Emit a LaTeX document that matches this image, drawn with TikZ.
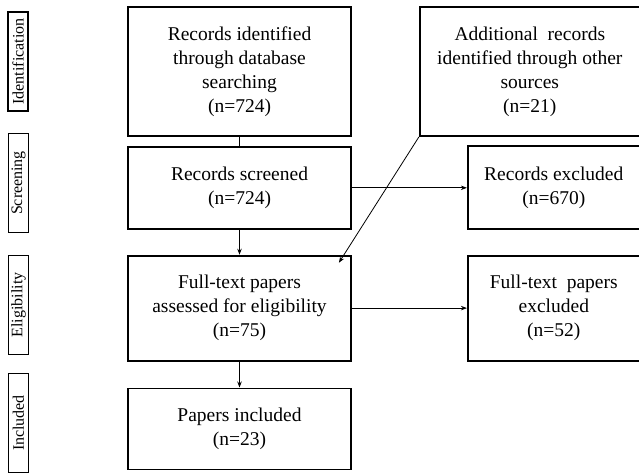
\documentclass[tikz,border=0pt]{standalone}
\usepackage{fontspec}
\setmainfont{Liberation Serif}
\usetikzlibrary{positioning, arrows.meta, calc}

\begin{document}
\begin{tikzpicture}[
			node distance=25pt and 67pt, % Vertical and Horizontal spacing
			>={Stealth[length=6pt,width=4.5pt]},
			% Style for the flow boxes
			flowbox/.style={
				rectangle,
				draw=black,
				line width=1.8pt,
				fill=white,
				inner sep=2pt,
				align=center,
				font=\fontsize{19.5}{24}\selectfont
			},
			% Style for the stage labels at the left
			stage/.style={
				rectangle,
				draw=black,
				line width=1.8pt,
				rotate=90,
				minimum width=99pt,
				minimum height=20pt,
				inner sep=0pt,
				font=\fontsize{16}{16}\selectfont
			},
			% Style for the connectors
			flow/.style={
				->,
				line width=0.8pt
			}
			]
			
			\useasboundingbox (0,0) rectangle (639pt,-472pt);
			
			% --- MAIN COLUMN ---
			\node[flowbox, minimum width=223pt, minimum height=129pt] (Rec) at (239.5pt,-71.5pt) {Records identified\\through database\\searching\\(n=724)};
			\node[flowbox, minimum width=223pt, minimum height=82pt, below=9pt of Rec] (Scr) {Records screened\\(n=724)};
			\node[flowbox, minimum width=223pt, minimum height=105pt, below=of Scr] (Full) {Full-text papers\\assessed for eligibility\\(n=75)};
			\node[flowbox, minimum width=223pt, minimum height=81pt, below=26pt of Full] (Inc) {Papers included\\(n=23)};
			
			% --- RIGHT COLUMN ---
			\node[flowbox, minimum width=220pt, minimum height=129pt, right=of Rec] (Add) {Additional\ \ records\\identified through other\\sources\\(n=21)};
			\node[flowbox, minimum width=172pt, minimum height=83pt, right=115pt of Scr] (RecEx) {Records excluded\\(n=670)};
			\node[flowbox, minimum width=172pt, minimum height=105pt, right=115pt of Full] (FullEx) {Full-text\ \ papers\\excluded\\(n=52)};
			
			% --- STAGE LABELS ---
			\node[stage] (Sid) at (18pt,-61.5pt) {Identification};
			\node[stage] (Sscr) at (18.5pt,-183pt) {Screening};
			\node[stage] (Selig) at (18.5pt,-305pt) {Eligibility};
			\node[stage] (Sinc) at (18.5pt,-423pt) {Included};
			
			% --- CONNECTORS ---
			\draw[line width=0.8pt] (Rec) -- (Scr);
			\draw[flow] (Scr) -- (Full);
			\draw[flow] (Full) -- (Inc);
			\draw[flow] (Scr) -- (RecEx);
			\draw[flow] (Full) -- (FullEx);
			\draw[flow] (Add.south west) -- ($(Full.north east)+(-13pt,-8pt)$);
			
		\end{tikzpicture}
\end{document}
